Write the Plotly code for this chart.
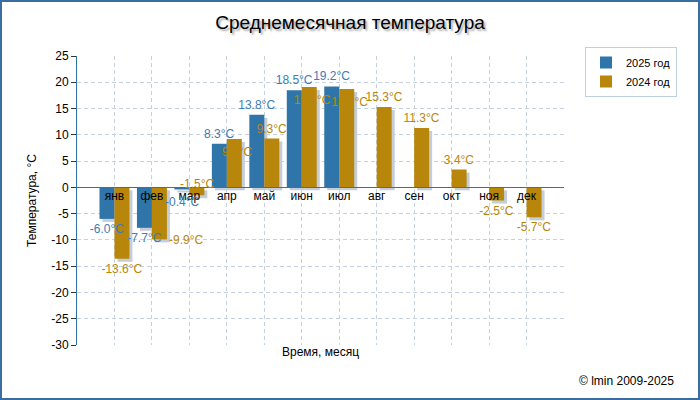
import plotly.graph_objects as go

# ---- data ----
months = ["янв", "фев", "мар", "апр", "май", "июн", "июл", "авг", "сен", "окт", "ноя", "дек"]
temp_2025 = [-6.0, -7.7, -0.4, 8.3, 13.8, 18.5, 19.2, None, None, None, None, None]
temp_2024 = [-13.6, -9.9, -1.5, 9.2, 9.3, 19.1, 18.7, 15.3, 11.3, 3.4, -2.5, -5.7]
y_tick_vals = [-30, -25, -20, -15, -10, -5, 0, 5, 10, 15, 20, 25]
y_tick_text = [str(v) for v in y_tick_vals]

# label placement styles (mimic the original collision handling)
blue_label_style = ["out", "out", "below", "out", "out", "out", "out",
                    "out", "out", "out", "out", "out"]
gold_label_style = ["out", "right", "zero", "behind", "out", "behind", "behind",
                    "out", "out", "out", "out", "out"]

# ---- style ----
W, H = 700, 400
M = dict(l=77, r=136, t=56, b=55)
Y_RANGE = [-30, 25]
X_RANGE = [-1, 12]
BLUE = "#2f75a9"
GOLD = "#b8860b"
BLUE_TXT = "#3d7cb8"
GOLD_TXT = "#b8860b"
SHADOW = "#c5cdd9"
GRID = "#c6d2df"
FONT = "Liberation Sans, Arial, sans-serif"
BAR_W = 0.4

plot_w = W - M["l"] - M["r"]
plot_h = H - M["t"] - M["b"]
dy = 3 / (plot_h / (Y_RANGE[1] - Y_RANGE[0]))
dx = 3 / (plot_w / (X_RANGE[1] - X_RANGE[0]))

xs = list(range(len(months)))


def lab(v):
    return "" if v is None else f"{v:.1f}°C"


fig = go.Figure()

# shadow of 2025
fig.add_trace(go.Bar(x=xs, y=temp_2025, base=-dy, offset=-BAR_W + dx, width=BAR_W,
                     marker=dict(color=SHADOW, line=dict(width=0)),
                     showlegend=False, hoverinfo="skip"))
# 2025 bars
fig.add_trace(go.Bar(x=xs, y=temp_2025, offset=-BAR_W, width=BAR_W, name="2025 год",
                     marker=dict(color=BLUE, line=dict(width=0))))
# shadow of 2024 (carries labels that sit behind the bars)
fig.add_trace(go.Bar(x=xs, y=temp_2024, base=-dy, offset=dx, width=BAR_W,
                     marker=dict(color=SHADOW, line=dict(width=0)),
                     text=[lab(v) if s == "behind" else "" for v, s in zip(temp_2024, gold_label_style)],
                     textposition="inside", insidetextanchor="end", textangle=0,
                     constraintext="none",
                     insidetextfont=dict(color=GOLD_TXT, size=12, family=FONT),
                     showlegend=False, hoverinfo="skip", cliponaxis=False))
# 2024 bars
fig.add_trace(go.Bar(x=xs, y=temp_2024, offset=0, width=BAR_W, name="2024 год",
                     marker=dict(color=GOLD, line=dict(width=0)),
                     text=[lab(v) if s == "out" else "" for v, s in zip(temp_2024, gold_label_style)],
                     textposition="outside", textangle=0, constraintext="none",
                     textfont=dict(color=GOLD_TXT, size=12, family=FONT),
                     cliponaxis=False))
# 2025 labels on top
fig.add_trace(go.Bar(x=xs, y=temp_2025, offset=-BAR_W, width=BAR_W,
                     marker=dict(color="rgba(0,0,0,0)", line=dict(width=0)),
                     text=[lab(v) if s == "out" else "" for v, s in zip(temp_2025, blue_label_style)],
                     textposition="outside",
                     textangle=0, constraintext="none",
                     textfont=dict(color=BLUE_TXT, size=12, family=FONT),
                     showlegend=False, hoverinfo="skip", cliponaxis=False))

# labels displaced sideways / to the base line
label_annotations = []
for i, (v, s) in enumerate(zip(temp_2025, blue_label_style)):
    if s == "below" and v is not None:
        label_annotations.append(dict(x=i - BAR_W / 2, y=v, xref="x", yref="y", text=lab(v),
                                      xanchor="center", yanchor="top", yshift=-4, showarrow=False,
                                      font=dict(color=BLUE_TXT, size=12, family=FONT)))
for i, (v, s) in enumerate(zip(temp_2024, gold_label_style)):
    if s == "right":
        label_annotations.append(dict(x=i + BAR_W, y=v, xref="x", yref="y", text=lab(v),
                                      xanchor="left", yanchor="middle", yshift=-1, showarrow=False,
                                      font=dict(color=GOLD_TXT, size=12, family=FONT)))
    elif s == "zero":
        label_annotations.append(dict(x=i + BAR_W / 2, y=0, xref="x", yref="y", text=lab(v),
                                      xanchor="center", yanchor="middle", yshift=3, showarrow=False,
                                      font=dict(color=GOLD_TXT, size=12, family=FONT)))

zero_pos = (0 - Y_RANGE[0]) / (Y_RANGE[1] - Y_RANGE[0])

fig.update_layout(
    width=W, height=H, margin=M,
    barmode="overlay",
    paper_bgcolor="white", plot_bgcolor="white",
    font=dict(family=FONT, size=12, color="black"),
    title=dict(text="Среднемесячная температура", x=0.5, xref="container", xanchor="center",
               y=1 - 22 / H, yref="container", yanchor="middle",
               font=dict(size=19, color="black", family=FONT, shadow="2px 2px 2px #a8a8a8")),
    xaxis=dict(range=X_RANGE, tickvals=xs + [len(months)], ticktext=months + [""],
               anchor="free", position=zero_pos, showline=True, linecolor=BLUE, linewidth=1,
               ticks="", ticklabelstandoff=-3, showgrid=True, gridcolor=GRID,
               griddash="4px,3px", gridwidth=1,
               zeroline=False, tickfont=dict(size=12, color="black"), fixedrange=True),
    yaxis=dict(range=Y_RANGE, tickvals=y_tick_vals, ticktext=y_tick_text,
               showline=True, linecolor=BLUE, linewidth=1,
               ticks="outside", ticklen=5, tickcolor="#333", showgrid=True, gridcolor=GRID,
               griddash="4px,3px", zeroline=False, tickfont=dict(size=12, color="black"),
               title=dict(text="Температура, °С", font=dict(size=12, color="black"), standoff=12)),
    legend=dict(x=(585 - M["l"]) / plot_w, y=1 + (M["t"] - 47) / plot_h, xanchor="left", yanchor="top",
                bordercolor="#c0cfdd", borderwidth=1, bgcolor="white",
                font=dict(size=11, color="black"), traceorder="normal", itemwidth=30),
    showlegend=True,
    annotations=label_annotations + [
        dict(text="Время, месяц", xref="paper", yref="paper", x=0.5, y=-(352 - (H - M["b"])) / plot_h,
             xanchor="center", yanchor="middle", showarrow=False, font=dict(size=12, color="black")),
        dict(text="© lmin 2009-2025", xref="paper", yref="paper", x=(676 - M["l"]) / plot_w,
             y=-(381 - (H - M["b"])) / plot_h, xanchor="right", yanchor="middle", showarrow=False,
             font=dict(size=12, color="black")),
    ],
    shapes=[
        dict(type="rect", xref="paper", yref="paper",
             x0=-(M["l"] - 1) / plot_w, x1=1 + (M["r"] - 1) / plot_w,
             y0=-(M["b"] - 1) / plot_h, y1=1 + (M["t"] - 1) / plot_h,
             line=dict(color="#3a6ea0", width=2), fillcolor="rgba(0,0,0,0)", layer="above"),
    ],
)

fig.write_html("out.html")
